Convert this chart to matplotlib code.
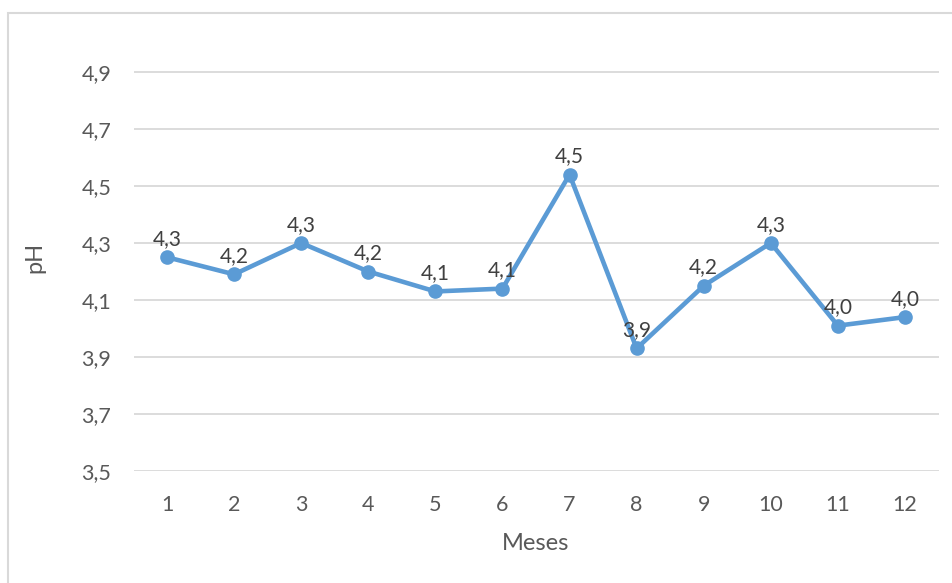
import matplotlib.pyplot as plt
from matplotlib.patches import Rectangle
import numpy as np

plt.rcParams['font.family'] = ['Lato', 'DejaVu Sans']

meses = list(range(1, 13))
ph = [4.25, 4.19, 4.30, 4.20, 4.13, 4.14, 4.54, 3.93, 4.15, 4.30, 4.01, 4.04]
yticks = [3.5, 3.7, 3.9, 4.1, 4.3, 4.5, 4.7, 4.9]

azul = '#5B9BD5'
gris_txt = '#595959'
gris_lin = '#D9D9D9'


def coma(v):
    # redondeo "hacia arriba" como en Excel, con coma decimal
    return f"{np.floor(v * 10 + 0.5 + 1e-9) / 10:.1f}".replace('.', ',')


fig = plt.figure(figsize=(9.52, 5.83), dpi=100)
fig.patches.append(Rectangle((8 / 952, -0.1), 1.1, 1 - 13 / 583 + 0.1,
                             transform=fig.transFigure, fill=False,
                             edgecolor=gris_lin, linewidth=1.5))

ax = fig.add_axes([133.5 / 952, 1 - 471 / 583, 805 / 952, (471 - 43.5) / 583])
ax.plot(meses, ph, color=azul, linewidth=3.3, marker='o', markersize=9.5,
        solid_joinstyle='round', zorder=3)

for x, y in zip(meses, ph):
    ax.annotate(coma(y), (x, y), xytext=(0, 6), textcoords='offset points',
                ha='center', va='bottom', fontsize=15, color='#404040', zorder=4)

ax.set_xlim(0.5, 12.5)
ax.set_ylim(3.5, 5.0)
ax.set_xticks(meses)
ax.set_yticks(yticks)
ax.set_yticklabels([f"{t:.1f}".replace('.', ',') for t in yticks])
ax.grid(axis='y', color=gris_lin, linewidth=1.3)
ax.set_axisbelow(True)
for s in ax.spines.values():
    s.set_visible(False)
ax.tick_params(length=0, labelsize=15.5, labelcolor=gris_txt)
ax.tick_params(axis='x', pad=17)
ax.tick_params(axis='y', pad=16)

ax.set_xlabel('Meses', fontsize=17, color=gris_txt, labelpad=13)
ax.set_ylabel('pH', fontsize=17, color=gris_txt, labelpad=26)

fig.savefig('out.png', dpi=100)
